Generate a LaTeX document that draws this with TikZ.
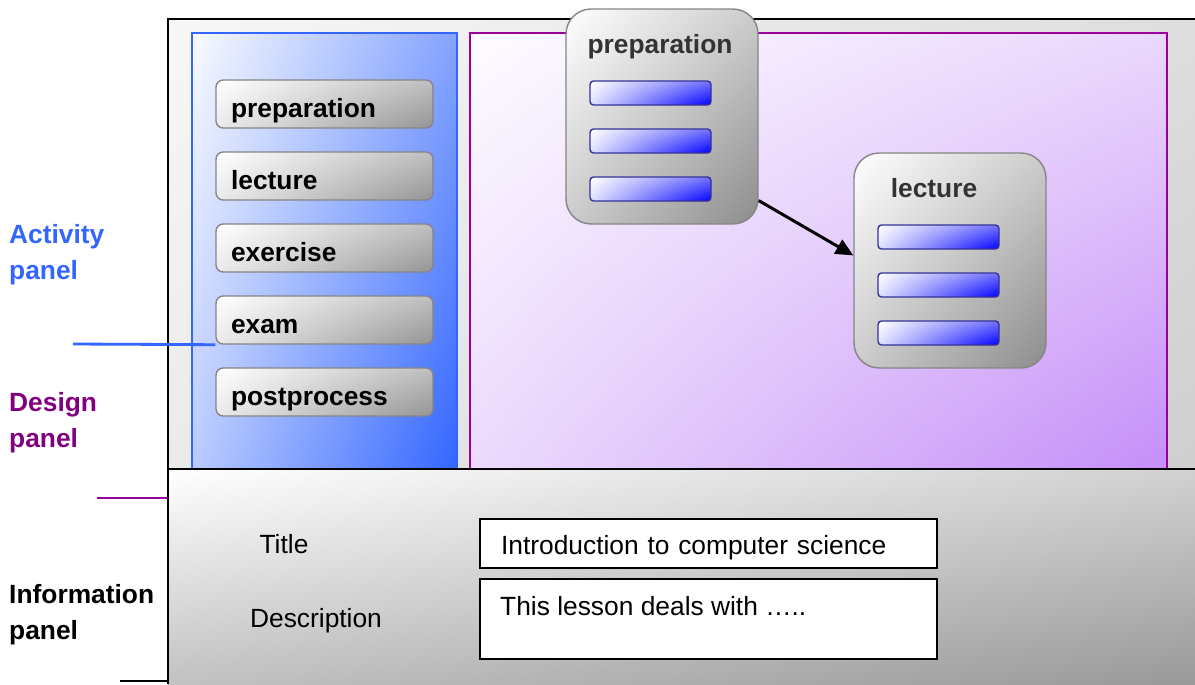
\documentclass[tikz,border=0pt]{standalone}
\usepackage{fontspec}
\setmainfont{Liberation Sans}
\usetikzlibrary{arrows.meta,shadings}
\definecolor{actblue}{HTML}{3366FF}
\definecolor{despurple}{HTML}{990099}
\definecolor{deslabel}{HTML}{800080}
\definecolor{desfill}{HTML}{C48EF8}
\definecolor{barblue}{HTML}{0000FF}
\definecolor{barline}{HTML}{333399}
\definecolor{boxline}{HTML}{858585}
\begin{document}
\begin{tikzpicture}[x=0.02cm,y=-0.02cm,
    every node/.style={font=\fontsize{15}{18}\selectfont},
    sidelbl/.style={anchor=west,align=left,font=\fontsize{15}{20.6}\selectfont\bfseries},
    actbtn/.style={draw=boxline,line width=0.8pt,rounded corners=4pt,
        shade,upper left=white,upper right=black!25,lower left=black!8,lower right=black!42,
        minimum width=4.34cm,minimum height=0.96cm,text width=3.74cm,inner xsep=0.3cm,
        text height=15.9pt,text depth=0pt,
        align=left,font=\fontsize{15}{18}\selectfont\bfseries},
    stepcard/.style={draw=boxline,line width=0.8pt,rounded corners=0.5cm,
        shade,upper left=white,upper right=black!20,lower left=black!20,lower right=black!45,
        minimum width=3.84cm,minimum height=4.3cm},
    cardttl/.style={anchor=base,text=black!80,font=\fontsize{15}{18}\selectfont\bfseries},
    bar/.style={draw=barline,line width=0.8pt,rounded corners=2pt,inner sep=0pt,
        shade,upper left=white,upper right=barblue!55,lower left=barblue!12,lower right=barblue,
        minimum width=2.42cm,minimum height=0.48cm},
    infobox/.style={draw,line width=1pt,fill=white,minimum width=9.14cm,inner xsep=0.42cm,
        text width=8.3cm,align=left}]
\useasboundingbox (0,0) rectangle (1195,684);
% background of the panels
\shade[upper left=white!97!black,upper right=black!13,lower left=black!8,lower right=black!19] (168,19) rectangle (1195,469);
\shade[upper left=white,upper right=black!18,lower left=black!24,lower right=black!40] (168,469) rectangle (1195,684);
\shade[draw=actblue,line width=1.6pt,upper left=white!97!actblue,upper right=actblue!60,
    lower left=actblue!34,lower right=actblue] (192,33) rectangle (457,469);
\shade[draw=despurple,line width=1.6pt,upper left=white!97!desfill,upper right=desfill!35,
    lower left=desfill!32,lower right=desfill] (470,33) rectangle (1167,469);
\draw[line width=1.6pt] (1195,19) -- (168,19) -- (168,684);
\draw[line width=1.6pt] (168,469) -- (1195,469);
% activity panel
\foreach \name [count=\i] in {preparation,lecture,exercise,exam,postprocess}
    \node[actbtn] (act\i) at (324.5,{104+72*(\i-1)}) {\name};
% design panel
\node[stepcard] (prep) at (662,116.5) {};
\node[cardttl] (prepttl) at (660,53) {preparation};
\foreach \y [count=\i] in {93,141,189}
    \node[bar] (prepbar\i) at (650.5,\y) {};
\node[stepcard] (lect) at (950,260.5) {};
\node[cardttl] (lectttl) at (934,197) {lecture};
\foreach \y [count=\i] in {237,285,333}
    \node[bar] (lectbar\i) at (938.5,\y) {};
\draw[-{Triangle[length=10pt,width=9pt]},line width=1.7pt] (prep.-41) -- (lect.177);
% information panel
\node[anchor=base] (titlelbl) at (284,553) {Title};
\node[anchor=base] (desclbl) at (316,627) {Description};
\node[infobox,minimum height=0.98cm,text height=13pt,text depth=0pt] (titlebox) at (708.5,543.5) {Introduction to computer science};
\node[infobox,minimum height=1.6cm] (descbox) at (708.5,619) {};
\node[anchor=base west] (desctext) at (494,615) {This lesson deals with …..};
% labels on the left
\node[sidelbl,text=actblue] (actlbl) at (3,255) {Activity\\panel};
\node[sidelbl,text=deslabel] (deslbl) at (3,423) {Design\\panel};
\node[sidelbl] (infolbl) at (3,615) {Information\\panel};
\coordinate (actend) at (73,344);
\coordinate (desend) at (97,498);
\coordinate (desframe) at (168,498);
\coordinate (infoend) at (120,681);
\coordinate (infoframe) at (168,681);
\draw[actblue,line width=1.6pt] (actend) -- (act4.south west);
\draw[despurple,line width=1.6pt] (desend) -- (desframe);
\draw[line width=1.6pt] (infoend) -- (infoframe);
\end{tikzpicture}
\end{document}
